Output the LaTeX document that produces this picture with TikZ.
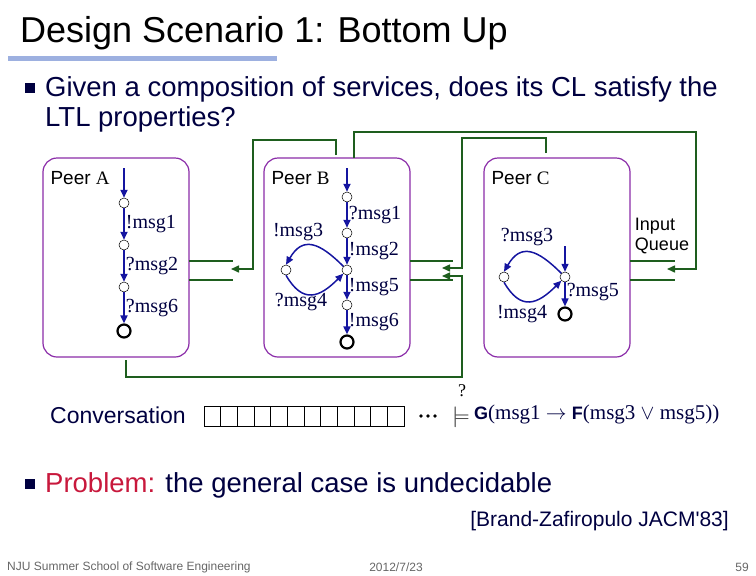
\documentclass[tikz,border=0pt]{standalone}
\usepackage{fontspec}
\setmainfont{Liberation Serif}
\newfontfamily\sansf{Liberation Sans}
\usetikzlibrary{arrows.meta}
\definecolor{navy}{HTML}{000040}
\definecolor{ablue}{HTML}{1515A0}
\definecolor{grn}{HTML}{1E5E1E}
\definecolor{purp}{HTML}{8A2BA8}
\definecolor{crim}{HTML}{C8183C}
\definecolor{bar}{HTML}{9DB0E0}
\tikzset{
 peer/.style={draw=purp,line width=1.2pt,rounded corners=14pt},
 st/.style={circle,draw=black,fill=white,inner sep=0pt,minimum size=10pt,line width=0.5pt},
 fin/.style={circle,draw=black,fill=white,inner sep=0pt,minimum size=13pt,line width=2.2pt},
 tr/.style={draw=ablue,line width=1.8pt,-{Triangle[length=8pt,width=7pt]}},
 lab/.style={text=navy,font=\fontsize{20}{20}\selectfont,inner sep=1pt},
 gl/.style={draw=grn,line width=1.5pt},
 ga/.style={draw=grn,line width=1.5pt,-{Triangle[length=8pt,width=7pt]}},
 pl/.style={text=black,font=\sansf\fontsize{19}{19}\selectfont,anchor=west},
}
\begin{document}
\begin{tikzpicture}[x=1pt,y=-1pt]
\useasboundingbox (0,0) rectangle (756,576);
\node[anchor=west,font=\sansf\fontsize{36}{36}\selectfont,inner sep=0pt] (title) at (20,33) {Design Scenario 1: Bottom Up};
\fill[bar] (8,56) rectangle (277,61);
\fill[navy] (25,83) rectangle (35,93);
\node[anchor=west,text=navy,font=\sansf\fontsize{27.5}{27.5}\selectfont,inner sep=0pt] (b1) at (45,89) {Given a composition of services, does its CL satisfy the};
\node[anchor=west,text=navy,font=\sansf\fontsize{27.5}{27.5}\selectfont,inner sep=0pt] (b1b) at (45,119) {LTL properties?};
\draw[peer] (43,158) rectangle (189,357);
\draw[peer] (264,158) rectangle (410,357);
\draw[peer] (484,158) rectangle (630,357);
\node[pl] (pa) at (47,178) {Peer {\rmfamily A}};
\node[pl] (pb) at (268,178) {Peer {\rmfamily B}};
\node[pl] (pc) at (488,178) {Peer {\rmfamily C}};
\coordinate (ai) at (124,168);
\node[st] (a1) at (124,203) {};
\node[st] (a2) at (124,245) {};
\node[st] (a3) at (124,287) {};
\node[fin] (a4) at (124,331) {};
\draw[tr] (ai) -- (a1);
\draw[tr] (a1) -- node[lab,right]{!msg1} (a2);
\draw[tr] (a2) -- node[lab,right]{?msg2} (a3);
\draw[tr] (a3) -- node[lab,right]{?msg6} (a4);
\coordinate (bi) at (347,168);
\node[st] (b1s) at (347,197) {};
\node[st] (b2) at (347,233) {};
\node[st] (b3) at (347,270) {};
\node[st] (b4) at (347,305) {};
\node[fin] (b5) at (347,342) {};
\node[st] (bl) at (286,270) {};
\draw[tr] (bi) -- (b1s);
\draw[tr] (b1s) -- node[lab,right]{?msg1} (b2);
\draw[tr] (b2) -- node[lab,right]{!msg2} (b3);
\draw[tr] (b3) -- node[lab,right]{!msg5} (b4);
\draw[tr] (b4) -- node[lab,right]{!msg6} (b5);
\draw[tr,line width=1.5pt] (b3.north west) to[out=135,in=60,looseness=1.5] (bl.north);
\draw[tr,line width=1.5pt] (bl.south) to[out=-60,in=-135,looseness=1.5] (b3.south west);
\node[lab] (l3) at (298,232) {!msg3};
\node[lab] (l4) at (301,302) {?msg4};
\coordinate (ci) at (565,246);
\node[st] (c1) at (565,277) {};
\node[st] (c2) at (504,277) {};
\node[fin] (c3) at (565,314) {};
\draw[tr,line width=1.5pt] (ci) -- (c1);
\draw[tr,line width=1.5pt] (c1) -- node[lab,right,pos=0.4]{?msg5} (c3);
\draw[tr,line width=1.5pt] (c1.north west) to[out=135,in=60,looseness=1.5] (c2.north);
\draw[tr,line width=1.5pt] (c2.south) to[out=-60,in=-135,looseness=1.5] (c1.south west);
\node[lab] (m3) at (527,237) {?msg3};
\node[lab] (m4) at (522,314) {!msg4};
\node[align=left,font=\sansf\fontsize{18}{20}\selectfont,inner sep=0pt] (iq) at (662,236) {Input\\Queue};
\draw[gl] (189,261) -- (233,261) (189,280) -- (233,280);
\draw[gl] (410,261) -- (453,261) (410,280) -- (453,280);
\draw[gl] (630,261) -- (675,261) (630,280) -- (675,280);
\coordinate (qa) at (231,269);
\coordinate (qb1) at (442,268);
\coordinate (qb2) at (442,276);
\coordinate (qc) at (667,269);
\coordinate (bt1) at (336,155);
\coordinate (bt2) at (354,158);
\coordinate (ct) at (546,153);
\coordinate (ab) at (126,360);
\draw[ga] (bt1) |- (253,140) -- (253,269) -- (qa);
\draw[ga] (bt2) |- (696,132) -- (696,269) -- (qc);
\draw[ga] (ct) |- (462,138) -- (462,268) -- (qb1);
\draw[ga] (ab) |- (462,377) -- (462,276) -- (qb2);
\node[anchor=west,font=\sansf\fontsize{23}{23}\selectfont,text=navy,inner sep=0pt] (conv) at (50,415) {Conversation};
\foreach \i in {0,...,11} {\draw[line width=0.7pt] (204+\i*16.67,406) rectangle (220.67+\i*16.67,426);}
\node[inner sep=0pt] (dots) at (428,416) {\tikz[x=1pt,y=1pt]{\foreach \k in {0,7,14}{\fill (\k,0) circle (1.8pt);}}};
\node[inner sep=0pt,font=\fontsize{22}{22}\selectfont] (mod) at (461,417) {$\models$};
\node[inner sep=0pt,font=\fontsize{18}{18}\selectfont] (qm) at (462,391) {?};
\node[inner sep=0pt,anchor=west,text=navy,font=\fontsize{21}{21}\selectfont] (form) at (474,414) {{\sansf\bfseries\fontsize{18}{18}\selectfont G}(msg1 $\rightarrow$ {\sansf\bfseries\fontsize{18}{18}\selectfont F}(msg3 $\vee$ msg5))};
\fill[navy] (25,479) rectangle (35,489);
\node[anchor=west,text=navy,font=\sansf\fontsize{27.5}{27.5}\selectfont,inner sep=0pt] (prob) at (45,485) {\textcolor{crim}{Problem:} the general case is undecidable};
\node[anchor=east,text=navy,font=\sansf\fontsize{21}{21}\selectfont,inner sep=0pt] (cite) at (729,521) {[Brand-Zafiropulo JACM'83]};
\node[anchor=west,text=gray!80!black,font=\sansf\fontsize{12}{12}\selectfont,inner sep=0pt] (f1) at (7,567) {NJU Summer School of Software Engineering};
\node[text=gray!80!black,font=\sansf\fontsize{12}{12}\selectfont,inner sep=0pt] (f2) at (396,567) {2012/7/23};
\node[anchor=east,text=gray!80!black,font=\sansf\fontsize{12}{12}\selectfont,inner sep=0pt] (f3) at (749,567) {59};
\end{tikzpicture}
\end{document}
